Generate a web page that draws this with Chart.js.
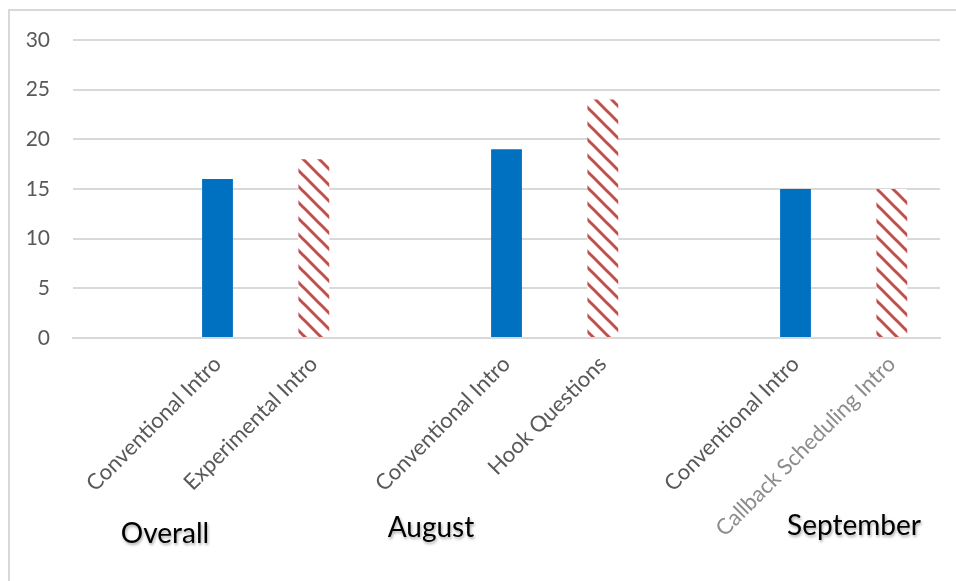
<!DOCTYPE html>
<html>
<head>
<meta charset="utf-8">
<script src="https://cdn.jsdelivr.net/npm/chart.js@4.4.1/dist/chart.umd.min.js"></script>
<style>
  body { margin: 0; overflow: hidden; background: #fff; }
  #wrap { position: relative; width: 956px; height: 581px; }
  #frame { position: absolute; left: 8px; top: 9px; width: 1000px; height: 700px;
           border: 2px solid #d9d9d9; pointer-events: none; }
</style>
</head>
<body>
<div id="wrap">
  <canvas id="mychart" width="956" height="581"></canvas>
  <div id="frame"></div>
</div>
<script>
// categories (blank slots separate the groups)
const categories = ['', 'Conventional Intro', 'Experimental Intro',
                    '', 'Conventional Intro', 'Hook Questions',
                    '', 'Conventional Intro', 'Callback Scheduling Intro'];
const values = [null, 16, 18, null, 19, 24, null, 15, 15];
const hatched = [false, false, true, false, false, true, false, false, true];
const groups = ['Overall', 'August', 'September'];
const yTicks = [0, 5, 10, 15, 20, 25, 30];

const blue = '#0070C0';
const red = '#C0504D';

// diagonal stripe pattern for the comparison bars
function stripes() {
    const c = document.createElement('canvas');
    c.width = 16; c.height = 16;
    const g = c.getContext('2d');
    g.fillStyle = '#fff';
    g.fillRect(0, 0, 16, 16);
    g.strokeStyle = red;
    g.lineWidth = 3;
    for (let k = -16; k <= 16; k += 16) {
        g.beginPath();
        g.moveTo(-2, -2 + k);
        g.lineTo(18, 18 + k);
        g.stroke();
    }
    return g.createPattern(c, 'repeat');
}
const pat = stripes();

// group titles under the axis
const groupLabels = {
    id: 'groupLabels',
    afterDraw(chart) {
        const ctx = chart.ctx;
        const pos = [[165, 543], [431, 537], [854, 535]];
        ctx.save();
        ctx.font = '28px Lato';
        ctx.fillStyle = '#000';
        ctx.textAlign = 'center';
        ctx.shadowColor = 'rgba(0,0,0,0.35)';
        ctx.shadowBlur = 3;
        ctx.shadowOffsetX = 1;
        ctx.shadowOffsetY = 2;
        groups.forEach((g, i) => ctx.fillText(g, pos[i][0], pos[i][1]));
        ctx.restore();
    }
};

const ctx = document.getElementById('mychart');

new Chart(ctx, {
    type: 'bar',
    data: {
        labels: categories,
        datasets: [{
            data: values,
            backgroundColor: hatched.map(h => h ? pat : blue),
            borderWidth: 0,
            barPercentage: 0.32,
            categoryPercentage: 1
        }]
    },
    options: {
        responsive: false,
        animation: false,
        layout: { padding: { top: 40, right: 16, left: 0, bottom: 0 } },
        plugins: { legend: { display: false }, tooltip: { enabled: false } },
        scales: {
            x: {
                grid: { display: false, drawTicks: false },
                border: { color: '#d9d9d9', width: 2 },
                ticks: {
                    minRotation: 45, maxRotation: 45, padding: 13,
                    autoSkip: false,
                    font: { family: 'Lato', size: 22 },
                    color: c => c.index === 8 ? '#8c8c8c' : '#595959'
                },
                afterFit: s => { s.height = 243; }
            },
            y: {
                min: 0, max: 30,
                afterBuildTicks: s => { s.ticks = yTicks.map(v => ({ value: v })); },
                grid: { color: '#d9d9d9', lineWidth: 2, drawTicks: false },
                border: { display: false },
                ticks: {
                    padding: 23,
                    font: { family: 'Lato', size: 21 },
                    color: '#595959'
                },
                afterFit: s => { s.width = 73; }
            }
        }
    },
    plugins: [groupLabels]
});
</script>
</body>
</html>
